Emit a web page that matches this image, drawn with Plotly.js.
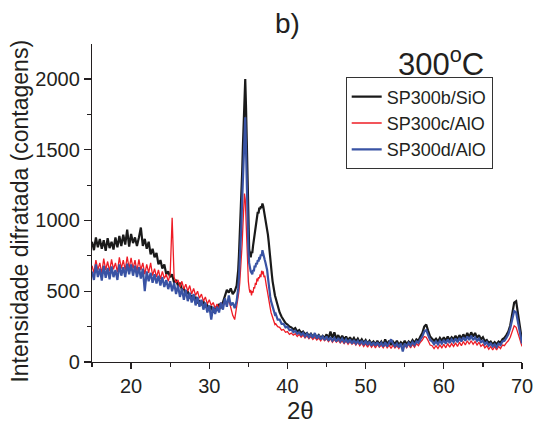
<!DOCTYPE html>
<html>
<head>
<meta charset="utf-8">
<script src="https://cdn.plot.ly/plotly-3.0.1.min.js"></script>
<style>html,body{margin:0;padding:0;background:#fff;}#chart{width:535px;height:428px;}</style>
</head>
<body>
<div id="chart"></div>
<script>
// 2-theta sampling segments [start, end, step]
const xSegments = [[15, 33.25, 0.25], [33.5, 38.4, 0.1], [38.5, 70, 0.25]];

const seriesNames = ["SP300b/SiO", "SP300c/AlO", "SP300d/AlO"];
const seriesColors = ["#1a1a1a", "#ee1c25", "#3953a4"];

// SP300b/SiO (black)
const blackY = [
  850,790,880,810, 870,800,860,785, 875,805,850,795, 880,810,890,820,
  900,830,935,815, 905,840,880,820, 880,950,820,870, 800,850,760,800,
  740,770,690,720, 660,690,620,640, 600,620,560,580, 540,560,510,520,
  480,500,450,470, 440,460,415,430, 410,430,385,400, 370,395,350,380,
  390,405,380,420, 470,510,490,520, 480,500,
  540,580,650,760,880,1000,1150,1330,1520,1720,
  1900,2000,1800,1500,1150,920,800,760,740,780,
  770,820,860,900,950,1000,1010,1060,1050,1090,
  1080,1100,1090,1120,1100,1070,1040,1010,980,950,
  900,850,780,720,670,620,570,530,500,470,
  450,390,350,320, 300,275,265,250, 245,230,240,215, 225,205,215,195,
  205,185,200,180, 195,175,190,170, 185,170,195,165, 215,170,210,165,
  190,160,185,160, 180,150,175,150, 170,145,165,140, 160,135,155,130,
  150,130,145,125, 150,125,145,120, 160,125,150,120, 145,125,150,120,
  140,125,150,125, 145,130,155,135, 160,150,180,205, 250,265,220,180,
  165,150,165,145, 170,150,175,150, 180,155,175,160, 185,160,190,165,
  195,170,205,175, 210,180,205,170, 190,160,175,145, 155,135,145,125,
  140,125,145,135, 160,170,190,215, 260,330,420,430, 330,230,150
];

// SP300c/AlO (red)
const redY = [
  680,630,720,650, 700,625,730,650, 710,640,725,655, 700,635,740,660,
  720,650,745,660, 735,660,720,640, 725,650,700,620, 690,630,700,610,
  660,600,650,585, 640,590,620,570, 620,1020,600,560, 580,530,570,515,
  550,500,540,480, 520,470,500,450, 480,430,460,410, 440,400,420,380,
  410,370,420,390, 430,400,440,380, 330,300,
  380,420,450,500,560,640,720,830,960,1080,
  1190,1150,1000,820,660,570,520,490,510,470,
  500,490,530,520,560,545,590,570,600,590,
  620,600,645,620,640,600,610,560,540,510,
  470,440,410,380,350,330,310,290,275,265,
  270,250,245,225, 230,210,215,195, 205,190,200,180, 195,175,190,170,
  185,165,180,160, 175,155,170,150, 170,150,165,145, 165,140,160,140,
  155,135,150,130, 150,125,145,125, 140,120,140,115, 135,110,130,105,
  130,105,125,100, 125,105,120,100, 125,100,120,95, 120,100,115,95,
  120,95,120,100, 125,100,125,105, 130,115,140,155, 180,175,150,120,
  115,95,115,95, 120,100,125,100, 130,105,130,110, 135,110,140,115,
  145,120,150,125, 150,125,145,120, 140,110,125,100, 115,90,110,85,
  110,85,110,95, 120,115,135,150, 175,215,255,245, 200,150,110
];

// SP300d/AlO (blue)
const blueY = [
  640,580,690,600, 660,575,680,595, 665,585,675,600, 650,580,690,610,
  670,600,695,620, 690,610,680,600, 670,590,660,500, 640,570,630,560,
  620,555,610,540, 600,530,580,515, 570,500,560,480, 540,460,520,440,
  510,430,490,420, 480,400,460,390, 440,370,420,350, 400,300,390,340,
  390,350,420,370, 450,390,470,400, 420,380,
  430,470,520,600,700,820,960,1130,1320,1520,
  1700,1730,1500,1230,960,800,700,660,640,630,
  620,650,640,680,670,700,690,720,710,740,
  735,760,750,790,760,740,720,700,680,650,
  600,540,500,460,430,410,390,370,350,335,
  340,300,300,270, 270,245,250,225, 230,210,220,200, 210,190,205,180,
  200,175,195,170, 205,165,190,160, 180,155,180,150, 175,150,170,145,
  170,145,165,140, 160,135,160,130, 155,130,150,125, 150,120,150,120,
  145,115,140,115, 140,115,135,110, 140,110,135,160, 130,110,130,105,
  130,75,130,110, 135,115,140,120, 145,135,160,180, 215,225,190,155,
  145,125,145,125, 150,130,155,130, 160,135,160,140, 165,140,170,145,
  175,150,180,155, 185,155,175,150, 165,140,150,125, 140,115,130,110,
  125,105,130,120, 145,150,170,195, 240,300,360,350, 270,190,130
];

const xGrid = [];
xSegments.forEach(([a, b, s]) => {
  const n = Math.round((b - a) / s);
  for (let i = 0; i <= n; i++) xGrid.push(Math.round((a + i * s) * 100) / 100);
});

const ys = [blackY, redY, blueY];
const widths = [2.2, 1.3, 2.2];
const traces = ys.map((y, k) => ({
  type: "scatter", mode: "lines", x: xGrid.slice(0, y.length), y: y,
  name: seriesNames[k], line: {color: seriesColors[k], width: widths[k]}
}));

const font = "Liberation Sans, Arial, Helvetica, sans-serif";
const axisColor = "#231f20";

const layout = {
  width: 535, height: 428,
  margin: {l: 92, r: 13, t: 44, b: 66},
  paper_bgcolor: "#fff", plot_bgcolor: "#fff",
  font: {family: font, color: axisColor},
  showlegend: true,
  legend: {
    x: 0.59, y: 0.895, xanchor: "left", yanchor: "top",
    bordercolor: "#333", borderwidth: 1, bgcolor: "#fff",
    font: {family: font, size: 18, color: axisColor},
    tracegroupgap: 0
  },
  xaxis: {
    range: [15, 70], tickmode: "array", tickvals: [20, 30, 40, 50, 60, 70],
    ticks: "outside", ticklen: 6, tickwidth: 1.2, tickcolor: axisColor,
    minor: {tickmode: "array", tickvals: [15, 25, 35, 45, 55, 65], ticks: "outside", ticklen: 4, tickcolor: axisColor, showgrid: false},
    showline: true, linecolor: axisColor, linewidth: 1.2,
    showgrid: false, zeroline: false,
    tickfont: {family: font, size: 20, color: axisColor}
  },
  yaxis: {
    range: [0, 2247], tickmode: "array", tickvals: [0, 500, 1000, 1500, 2000],
    ticks: "outside", ticklen: 7, tickwidth: 1.2, tickcolor: axisColor,
    minor: {tickmode: "array", tickvals: [250, 750, 1250, 1750], ticks: "outside", ticklen: 4, tickcolor: axisColor, showgrid: false},
    showline: true, linecolor: axisColor, linewidth: 1.2,
    showgrid: false, zeroline: false,
    tickfont: {family: font, size: 20, color: axisColor}
  },
  annotations: [
    {text: "b)", xref: "paper", yref: "paper", x: 0.4535, y: 1.063, xanchor: "center", yanchor: "middle", showarrow: false, font: {family: font, size: 28, color: axisColor}},
    {text: "300<sup>o</sup>C", xref: "paper", yref: "paper", x: 0.812, y: 0.943, xanchor: "center", yanchor: "middle", showarrow: false, font: {family: font, size: 31, color: axisColor}},
    {text: "2θ", xref: "paper", yref: "paper", x: 0.484, y: -0.151, xanchor: "center", yanchor: "middle", showarrow: false, font: {family: font, size: 24, color: axisColor}},
    {text: "Intensidade difratada (contagens)", xref: "paper", yref: "paper", x: -0.1674, y: 0.473, xanchor: "center", yanchor: "middle", textangle: -90, showarrow: false, font: {family: font, size: 23, color: axisColor}}
  ]
};

Plotly.newPlot("chart", traces, layout, {displayModeBar: false, staticPlot: true});
</script>
</body>
</html>
